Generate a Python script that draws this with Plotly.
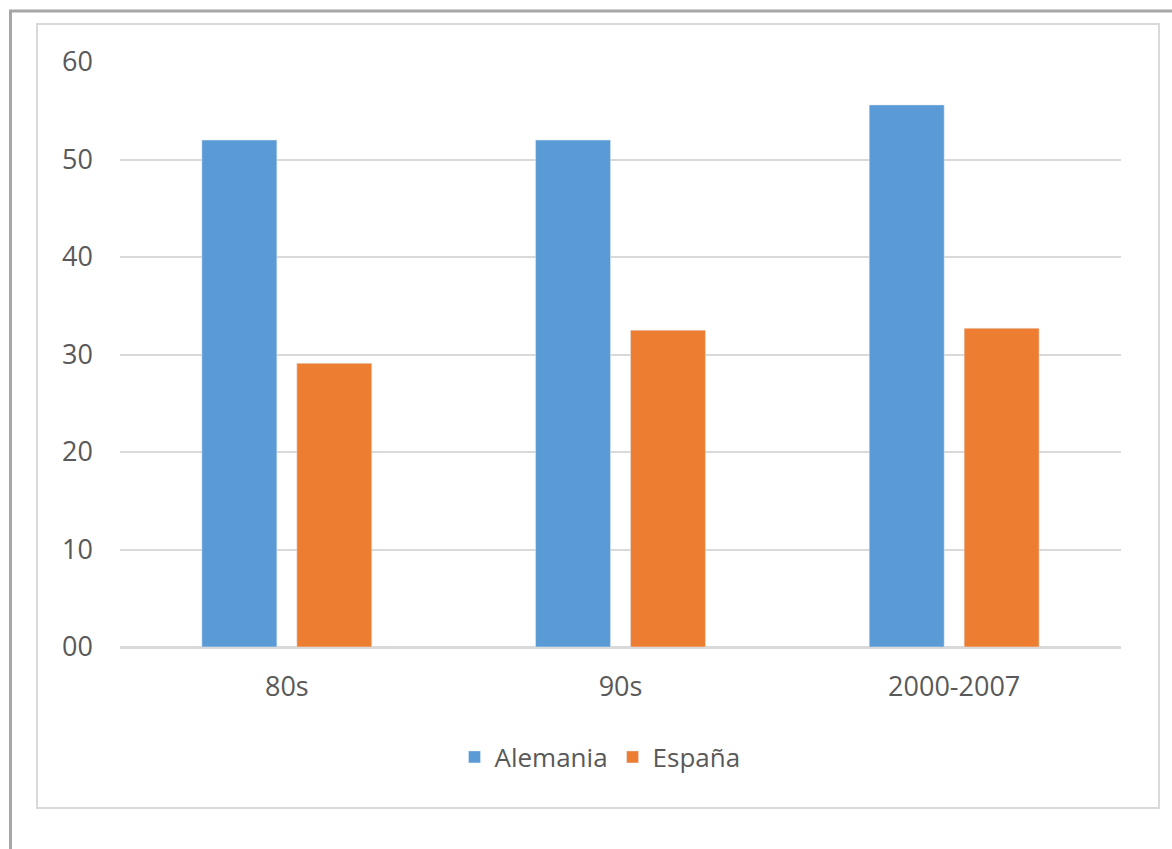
import plotly.graph_objects as go

# Data
categories = ["80s", "90s", "2000-2007"]
alemania = [52.0, 52.0, 55.6]
espana = [29.1, 32.5, 32.7]
y_ticks = [0, 10, 20, 30, 40, 50, 60]
y_tick_labels = ["00", "10", "20", "30", "40", "50", "60"]

BLUE = "#5B9BD5"
ORANGE = "#ED7D31"
TEXT = "#595959"
GRID = "#D9D9D9"
FONT = "Open Sans"

W, H = 1172, 849
L, R, T, B = 120, 51, 62, 202
PW, PH = W - L - R, H - T - B


def px_x(x):
    return (x - L) / PW


def px_y(y):
    return (H - B - y) / PH


fig = go.Figure()
fig.add_trace(go.Bar(x=categories, y=alemania, name="Alemania", marker_color=BLUE))
fig.add_trace(go.Bar(x=categories, y=espana, name="España", marker_color=ORANGE))

shapes = [
    # outer page frame
    dict(type="rect", xref="paper", yref="paper",
         x0=px_x(10.5), x1=px_x(1190), y0=px_y(870), y1=px_y(11),
         line=dict(color="#A6A6A6", width=3), fillcolor="rgba(0,0,0,0)", layer="below"),
    # chart area frame
    dict(type="rect", xref="paper", yref="paper",
         x0=px_x(37), x1=px_x(1159), y0=px_y(808), y1=px_y(24),
         line=dict(color="#D9D9D9", width=2), fillcolor="rgba(0,0,0,0)", layer="below"),
]

fig.update_layout(
    width=W, height=H,
    margin=dict(l=L, r=R, t=T, b=B),
    paper_bgcolor="white", plot_bgcolor="white",
    barmode="group", bargap=0.431, bargroupgap=0.21,
    font=dict(family=FONT, size=26, color=TEXT),
    showlegend=True,
    legend=dict(orientation="h", x=px_x(600), xanchor="center",
                y=px_y(757), yanchor="middle",
                font=dict(family=FONT, size=26, color=TEXT),
                itemwidth=30, bgcolor="rgba(0,0,0,0)"),
    shapes=shapes,
)
fig.update_xaxes(showgrid=False, showline=False, zeroline=False, ticks="",
                 ticklabelstandoff=21, tickfont=dict(family=FONT, size=27, color=TEXT))
fig.update_yaxes(range=[0, 60], tickvals=y_ticks, ticktext=y_tick_labels,
                 showgrid=True, gridcolor=GRID, gridwidth=2,
                 zeroline=True, zerolinecolor=GRID, zerolinewidth=3,
                 showline=False, ticks="", ticklabelstandoff=26,
                 tickfont=dict(family=FONT, size=27, color=TEXT))

fig.write_html("out.html")
